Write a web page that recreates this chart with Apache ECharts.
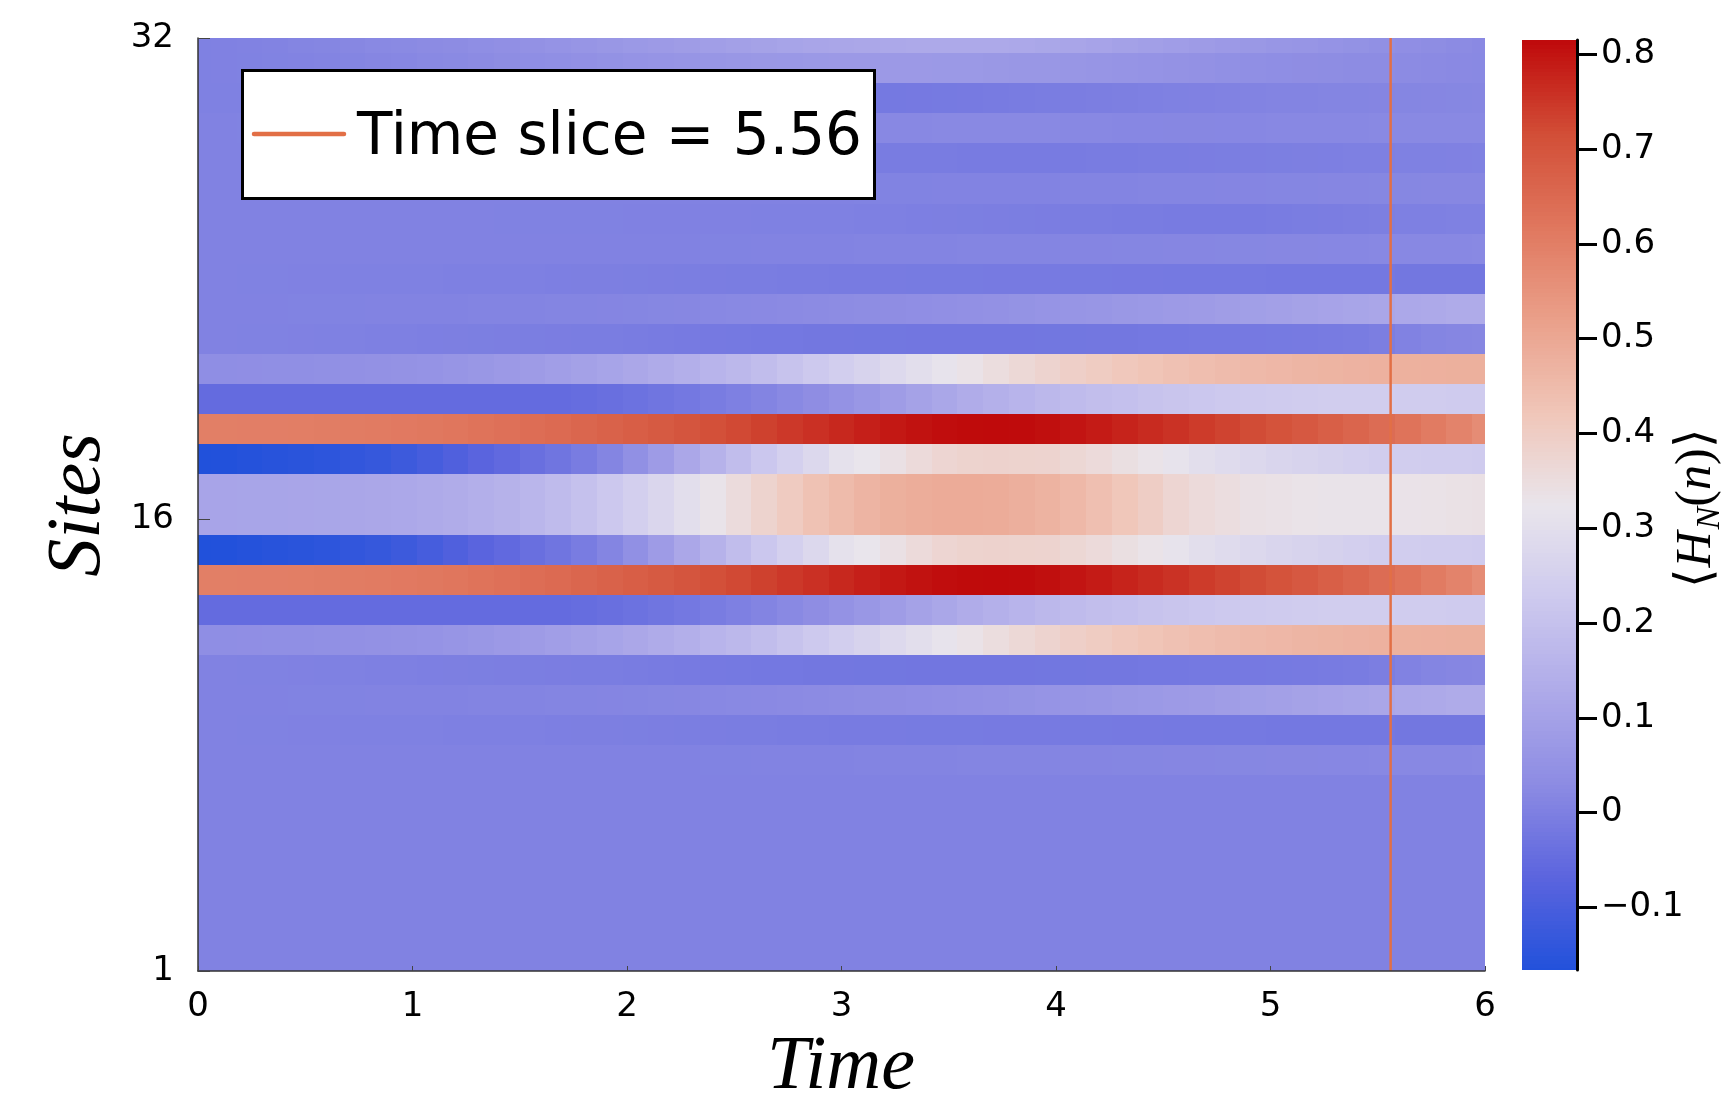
<!DOCTYPE html>
<html><head><meta charset="utf-8">
<script src="https://cdn.jsdelivr.net/npm/echarts@6/dist/echarts.min.js"></script>
<style>html,body{margin:0;padding:0;background:#fff}#chart{width:1722px;height:1096px}</style>
</head><body><div id="chart"></div>
<script>
// ---------------- data ----------------
const times = [0,0.12,0.24,0.36,0.48,0.6,0.72,0.84,0.96,1.08,1.2,1.32,1.44,1.56,1.68,1.8,1.92,2.04,2.16,2.28,2.4,2.52,2.64,2.76,2.88,3,3.12,3.24,3.36,3.48,3.6,3.72,3.84,3.96,4.08,4.2,4.32,4.44,4.56,4.68,4.8,4.92,5.04,5.16,5.28,5.4,5.52,5.64,5.76,5.88,6];
const sites = [1,2,3,4,5,6,7,8,9,10,11,12,13,14,15,16,17,18,19,20,21,22,23,24,25,26,27,28,29,30,31,32];

const site01 = [0.008,0.008,0.008,0.008,0.008,0.008,0.008,0.008,0.008,0.008,0.008,0.008,0.008,0.008,0.008,0.008,0.008,0.008,0.008,0.008,0.008,0.008,0.008,0.008,0.008,0.008,0.008,0.008,0.008,0.008,0.008,0.008,0.008,0.008,0.008,0.008,0.008,0.008,0.008,0.008,0.008,0.008,0.008,0.008,0.008,0.008,0.008,0.008,0.008,0.008,0.008];
const site02 = [0.008,0.008,0.008,0.008,0.008,0.008,0.008,0.008,0.008,0.008,0.008,0.008,0.008,0.008,0.008,0.008,0.008,0.008,0.008,0.008,0.008,0.008,0.008,0.008,0.008,0.008,0.008,0.008,0.008,0.008,0.008,0.008,0.008,0.008,0.008,0.008,0.008,0.008,0.008,0.008,0.008,0.008,0.008,0.008,0.008,0.008,0.008,0.008,0.008,0.008,0.008];
const site03 = [0.008,0.008,0.008,0.008,0.008,0.008,0.008,0.008,0.008,0.008,0.008,0.008,0.008,0.008,0.008,0.008,0.008,0.008,0.008,0.008,0.008,0.008,0.008,0.008,0.008,0.008,0.008,0.008,0.008,0.008,0.008,0.008,0.008,0.008,0.008,0.008,0.008,0.008,0.008,0.008,0.008,0.008,0.008,0.008,0.008,0.008,0.008,0.008,0.008,0.008,0.008];
const site04 = [0.008,0.008,0.008,0.008,0.008,0.008,0.008,0.008,0.008,0.008,0.008,0.008,0.008,0.008,0.008,0.008,0.008,0.008,0.008,0.008,0.008,0.008,0.008,0.008,0.008,0.008,0.008,0.008,0.008,0.008,0.008,0.008,0.008,0.008,0.008,0.008,0.008,0.008,0.008,0.008,0.008,0.008,0.008,0.008,0.008,0.008,0.008,0.008,0.008,0.008,0.008];
const site05 = [0.008,0.008,0.008,0.008,0.008,0.008,0.008,0.008,0.008,0.008,0.008,0.008,0.008,0.008,0.008,0.008,0.008,0.008,0.008,0.008,0.008,0.008,0.008,0.008,0.008,0.008,0.008,0.008,0.008,0.008,0.008,0.008,0.008,0.008,0.008,0.008,0.008,0.008,0.008,0.008,0.008,0.008,0.008,0.008,0.008,0.008,0.008,0.008,0.008,0.008,0.008];
const site06 = [0.008,0.008,0.008,0.008,0.008,0.008,0.008,0.008,0.008,0.008,0.008,0.008,0.008,0.008,0.008,0.008,0.008,0.008,0.008,0.008,0.008,0.008,0.008,0.008,0.008,0.008,0.008,0.008,0.008,0.008,0.008,0.008,0.008,0.008,0.008,0.008,0.008,0.008,0.008,0.008,0.008,0.008,0.008,0.008,0.008,0.008,0.008,0.008,0.008,0.008,0.008];
const site07 = [0.008,0.008,0.008,0.008,0.008,0.008,0.008,0.008,0.008,0.008,0.008,0.008,0.008,0.008,0.008,0.008,0.008,0.008,0.008,0.008,0.008,0.008,0.008,0.008,0.008,0.008,0.008,0.008,0.008,0.008,0.008,0.008,0.008,0.008,0.008,0.008,0.008,0.008,0.008,0.008,0.008,0.008,0.008,0.008,0.008,0.008,0.008,0.008,0.008,0.008,0.008];
const site08 = [0.008,0.008,0.008,0.008,0.008,0.008,0.008,0.008,0.008,0.008,0.008,0.008,0.008,0.008,0.008,0.008,0.008,0.008,0.008,0.008,0.009,0.009,0.010,0.010,0.011,0.011,0.012,0.012,0.013,0.013,0.014,0.014,0.015,0.015,0.016,0.016,0.017,0.017,0.018,0.018,0.019,0.019,0.020,0.020,0.021,0.021,0.022,0.022,0.023,0.023,0.024];
const site09 = [0.008,0.008,0.007,0.007,0.006,0.006,0.005,0.005,0.004,0.004,0.003,0.003,0.002,0.002,0.001,0.000,0.000,-0.001,-0.002,-0.003,-0.004,-0.005,-0.006,-0.007,-0.008,-0.009,-0.010,-0.010,-0.011,-0.011,-0.011,-0.012,-0.012,-0.012,-0.013,-0.013,-0.014,-0.014,-0.015,-0.015,-0.016,-0.016,-0.017,-0.017,-0.018,-0.018,-0.018,-0.019,-0.019,-0.020,-0.020];
const site10 = [0.008,0.008,0.008,0.008,0.009,0.009,0.009,0.010,0.010,0.011,0.011,0.012,0.013,0.013,0.014,0.015,0.016,0.017,0.019,0.020,0.022,0.024,0.026,0.028,0.030,0.032,0.035,0.038,0.041,0.044,0.047,0.050,0.054,0.058,0.062,0.066,0.070,0.074,0.078,0.082,0.087,0.092,0.097,0.102,0.107,0.112,0.117,0.122,0.126,0.130,0.133];
const site11 = [0.008,0.008,0.007,0.007,0.006,0.005,0.004,0.003,0.002,0.001,0.000,-0.001,-0.002,-0.003,-0.004,-0.005,-0.006,-0.008,-0.010,-0.012,-0.014,-0.016,-0.017,-0.018,-0.019,-0.020,-0.021,-0.021,-0.022,-0.022,-0.022,-0.022,-0.022,-0.021,-0.021,-0.020,-0.019,-0.018,-0.017,-0.016,-0.015,-0.014,-0.013,-0.012,-0.010,-0.007,-0.002,0.008,0.014,0.018,0.020];
const site12 = [0.040,0.040,0.041,0.042,0.043,0.045,0.047,0.050,0.053,0.057,0.062,0.068,0.075,0.082,0.090,0.099,0.109,0.120,0.132,0.145,0.159,0.174,0.190,0.207,0.225,0.244,0.263,0.282,0.300,0.318,0.335,0.351,0.366,0.380,0.393,0.405,0.416,0.426,0.435,0.443,0.450,0.456,0.461,0.466,0.470,0.473,0.476,0.478,0.479,0.480,0.480];
const site13 = [-0.050,-0.050,-0.050,-0.050,-0.050,-0.050,-0.050,-0.050,-0.050,-0.050,-0.050,-0.050,-0.050,-0.050,-0.050,-0.045,-0.040,-0.033,-0.025,-0.017,-0.008,0.002,0.013,0.025,0.038,0.052,0.068,0.085,0.102,0.118,0.134,0.148,0.161,0.172,0.182,0.191,0.199,0.206,0.213,0.219,0.225,0.230,0.234,0.237,0.239,0.240,0.240,0.238,0.236,0.234,0.232];
const site14 = [0.600,0.600,0.601,0.602,0.603,0.605,0.607,0.610,0.613,0.617,0.622,0.628,0.635,0.642,0.650,0.659,0.668,0.678,0.689,0.700,0.712,0.724,0.736,0.748,0.760,0.772,0.784,0.795,0.804,0.810,0.814,0.815,0.813,0.808,0.800,0.790,0.779,0.768,0.757,0.745,0.733,0.720,0.706,0.692,0.677,0.661,0.645,0.628,0.609,0.589,0.568];
const site15 = [-0.166,-0.164,-0.160,-0.155,-0.150,-0.145,-0.138,-0.130,-0.118,-0.103,-0.087,-0.070,-0.055,-0.040,-0.025,-0.008,0.015,0.045,0.082,0.120,0.155,0.190,0.220,0.250,0.280,0.310,0.325,0.340,0.360,0.375,0.383,0.385,0.383,0.380,0.370,0.360,0.345,0.332,0.318,0.300,0.290,0.280,0.270,0.260,0.253,0.247,0.242,0.239,0.237,0.236,0.235];
const site16 = [0.110,0.110,0.111,0.112,0.113,0.115,0.117,0.120,0.123,0.128,0.135,0.143,0.153,0.166,0.182,0.200,0.222,0.246,0.272,0.300,0.330,0.355,0.382,0.408,0.432,0.452,0.468,0.480,0.488,0.492,0.492,0.489,0.482,0.472,0.458,0.440,0.420,0.400,0.375,0.360,0.350,0.340,0.336,0.332,0.330,0.330,0.331,0.333,0.335,0.338,0.340];
const site17 = [0.110,0.110,0.111,0.112,0.113,0.115,0.117,0.120,0.123,0.128,0.135,0.143,0.153,0.166,0.182,0.200,0.222,0.246,0.272,0.300,0.330,0.355,0.382,0.408,0.432,0.452,0.468,0.480,0.488,0.492,0.492,0.489,0.482,0.472,0.458,0.440,0.420,0.400,0.375,0.360,0.350,0.340,0.336,0.332,0.330,0.330,0.331,0.333,0.335,0.338,0.340];
const site18 = [-0.166,-0.164,-0.160,-0.155,-0.150,-0.145,-0.138,-0.130,-0.118,-0.103,-0.087,-0.070,-0.055,-0.040,-0.025,-0.008,0.015,0.045,0.082,0.120,0.155,0.190,0.220,0.250,0.280,0.310,0.325,0.340,0.360,0.375,0.383,0.385,0.383,0.380,0.370,0.360,0.345,0.332,0.318,0.300,0.290,0.280,0.270,0.260,0.253,0.247,0.242,0.239,0.237,0.236,0.235];
const site19 = [0.600,0.600,0.601,0.602,0.603,0.605,0.607,0.610,0.613,0.617,0.622,0.628,0.635,0.642,0.650,0.659,0.668,0.678,0.689,0.700,0.712,0.724,0.736,0.748,0.760,0.772,0.784,0.795,0.804,0.810,0.814,0.815,0.813,0.808,0.800,0.790,0.779,0.768,0.757,0.745,0.733,0.720,0.706,0.692,0.677,0.661,0.645,0.628,0.609,0.589,0.568];
const site20 = [-0.050,-0.050,-0.050,-0.050,-0.050,-0.050,-0.050,-0.050,-0.050,-0.050,-0.050,-0.050,-0.050,-0.050,-0.050,-0.045,-0.040,-0.033,-0.025,-0.017,-0.008,0.002,0.013,0.025,0.038,0.052,0.068,0.085,0.102,0.118,0.134,0.148,0.161,0.172,0.182,0.191,0.199,0.206,0.213,0.219,0.225,0.230,0.234,0.237,0.239,0.240,0.240,0.238,0.236,0.234,0.232];
const site21 = [0.040,0.040,0.041,0.042,0.043,0.045,0.047,0.050,0.053,0.057,0.062,0.068,0.075,0.082,0.090,0.099,0.109,0.120,0.132,0.145,0.159,0.174,0.190,0.207,0.225,0.244,0.263,0.282,0.300,0.318,0.335,0.351,0.366,0.380,0.393,0.405,0.416,0.426,0.435,0.443,0.450,0.456,0.461,0.466,0.470,0.473,0.476,0.478,0.479,0.480,0.480];
const site22 = [0.008,0.008,0.007,0.007,0.006,0.005,0.004,0.003,0.002,0.001,0.000,-0.001,-0.002,-0.003,-0.004,-0.005,-0.006,-0.008,-0.010,-0.012,-0.014,-0.016,-0.017,-0.018,-0.019,-0.020,-0.021,-0.021,-0.022,-0.022,-0.022,-0.022,-0.022,-0.021,-0.021,-0.020,-0.019,-0.018,-0.017,-0.016,-0.015,-0.014,-0.013,-0.012,-0.010,-0.007,-0.002,0.008,0.014,0.018,0.020];
const site23 = [0.008,0.008,0.008,0.008,0.009,0.009,0.009,0.010,0.010,0.011,0.011,0.012,0.013,0.013,0.014,0.015,0.016,0.017,0.019,0.020,0.022,0.024,0.026,0.028,0.030,0.032,0.035,0.038,0.041,0.044,0.047,0.050,0.054,0.058,0.062,0.066,0.070,0.074,0.078,0.082,0.087,0.092,0.097,0.102,0.107,0.112,0.117,0.122,0.126,0.130,0.133];
const site24 = [0.008,0.008,0.007,0.007,0.006,0.006,0.005,0.005,0.004,0.004,0.003,0.003,0.002,0.002,0.001,0.000,0.000,-0.001,-0.002,-0.003,-0.004,-0.005,-0.006,-0.007,-0.008,-0.009,-0.010,-0.010,-0.011,-0.011,-0.011,-0.012,-0.012,-0.012,-0.013,-0.013,-0.014,-0.014,-0.015,-0.015,-0.016,-0.016,-0.017,-0.017,-0.018,-0.018,-0.018,-0.019,-0.019,-0.020,-0.020];
const site25 = [0.008,0.008,0.008,0.008,0.008,0.008,0.008,0.008,0.008,0.008,0.008,0.008,0.008,0.008,0.008,0.008,0.008,0.008,0.008,0.008,0.009,0.009,0.010,0.010,0.011,0.011,0.012,0.012,0.013,0.013,0.014,0.014,0.015,0.015,0.016,0.016,0.017,0.017,0.018,0.018,0.019,0.019,0.020,0.020,0.021,0.021,0.022,0.022,0.023,0.023,0.024];
const site26 = [0.008,0.008,0.008,0.008,0.008,0.008,0.008,0.008,0.008,0.008,0.008,0.008,0.007,0.007,0.007,0.007,0.007,0.006,0.006,0.006,0.006,0.006,0.005,0.005,0.005,0.004,0.003,0.002,0.001,0.000,-0.001,-0.002,-0.003,-0.004,-0.005,-0.006,-0.007,-0.008,-0.009,-0.010,-0.010,-0.009,-0.008,-0.006,-0.004,-0.002,0.000,0.002,0.003,0.004,0.005];
const site27 = [0.008,0.008,0.008,0.008,0.008,0.008,0.008,0.008,0.008,0.008,0.008,0.008,0.008,0.008,0.008,0.008,0.008,0.008,0.008,0.008,0.008,0.008,0.008,0.008,0.008,0.008,0.009,0.009,0.009,0.010,0.010,0.010,0.011,0.011,0.012,0.012,0.013,0.014,0.015,0.015,0.016,0.016,0.017,0.017,0.018,0.018,0.019,0.019,0.020,0.020,0.020];
const site28 = [0.008,0.008,0.008,0.008,0.008,0.007,0.007,0.006,0.006,0.005,0.005,0.004,0.004,0.003,0.002,0.002,0.001,0.000,-0.001,-0.001,-0.002,-0.003,-0.003,-0.004,-0.005,-0.005,-0.006,-0.007,-0.008,-0.008,-0.009,-0.009,-0.010,-0.010,-0.009,-0.008,-0.007,-0.006,-0.005,-0.004,-0.003,-0.002,-0.001,0.000,0.001,0.002,0.003,0.004,0.005,0.006,0.007];
const site29 = [0.008,0.008,0.009,0.009,0.010,0.010,0.011,0.011,0.012,0.012,0.013,0.013,0.014,0.014,0.015,0.015,0.016,0.016,0.017,0.017,0.018,0.018,0.019,0.019,0.020,0.020,0.021,0.022,0.023,0.024,0.024,0.025,0.025,0.024,0.023,0.022,0.021,0.021,0.020,0.020,0.021,0.021,0.022,0.022,0.023,0.023,0.024,0.024,0.025,0.025,0.025];
const site30 = [0.005,0.005,0.005,0.005,0.004,0.004,0.003,0.003,0.002,0.001,0.000,-0.001,-0.002,-0.003,-0.004,-0.005,-0.006,-0.007,-0.008,-0.009,-0.010,-0.011,-0.012,-0.013,-0.014,-0.015,-0.015,-0.015,-0.014,-0.013,-0.012,-0.010,-0.008,-0.006,-0.004,-0.002,0.000,0.002,0.004,0.006,0.008,0.010,0.012,0.013,0.014,0.015,0.016,0.017,0.018,0.019,0.020];
const site31 = [0.005,0.006,0.007,0.009,0.011,0.013,0.015,0.018,0.021,0.024,0.027,0.031,0.035,0.039,0.043,0.047,0.051,0.055,0.059,0.062,0.065,0.068,0.070,0.072,0.074,0.075,0.076,0.076,0.075,0.074,0.073,0.071,0.069,0.067,0.064,0.061,0.058,0.055,0.052,0.049,0.046,0.043,0.040,0.038,0.036,0.034,0.032,0.030,0.028,0.026,0.025];
const site32 = [0.005,0.006,0.008,0.011,0.014,0.017,0.020,0.024,0.027,0.030,0.034,0.039,0.044,0.049,0.055,0.061,0.067,0.073,0.079,0.085,0.091,0.097,0.103,0.108,0.113,0.117,0.120,0.123,0.125,0.126,0.126,0.125,0.122,0.118,0.113,0.107,0.100,0.094,0.088,0.082,0.076,0.071,0.066,0.061,0.056,0.051,0.046,0.041,0.036,0.031,0.026];

const timeSlice = 5.56;
const xTicks = [0,1,2,3,4,5,6];
const siteTicks = [1,16,32];
const cbarTicks = [-0.1,0,0.1,0.2,0.3,0.4,0.5,0.6,0.7,0.8];
const cMin = -0.166, cMax = 0.815;
const cmap = ['#2151db','#5b64de','#8c8be3','#aeaae9','#cdc9ee','#e9e5ec','#f0c6b9','#eaa08a','#e0775e','#d24e37','#bf0a0b'];

// ---------------- build ----------------
const rows = [site01,site02,site03,site04,site05,site06,site07,site08,site09,site10,site11,site12,site13,site14,site15,site16,
              site17,site18,site19,site20,site21,site22,site23,site24,site25,site26,site27,site28,site29,site30,site31,site32];
const cells = [];
rows.forEach((row, si) => row.forEach((v, k) => cells.push([times[k], sites[si], v, k])));

const nBar = 240;
const barData = [];
for (let i = 0; i < nBar; i++) {
  const lo = cMin + (cMax - cMin) * i / nBar, hi = cMin + (cMax - cMin) * (i + 1) / nBar;
  barData.push([lo, hi, (lo + hi) / 2]);
}

function clip(rect, cs) {
  return echarts.graphic.clipRectByRect(rect, {x: cs.x, y: cs.y, width: cs.width, height: cs.height});
}
function renderCell(params, api) {
  const k = api.value(3), t = api.value(0), s = api.value(1);
  const n = times.length;
  const tl = k > 0 ? (times[k - 1] + t) / 2 : t - (times[1] - times[0]) / 2;
  const tr = k < n - 1 ? (t + times[k + 1]) / 2 : t + (times[n - 1] - times[n - 2]) / 2;
  const p0 = api.coord([tl, s + 0.5]), p1 = api.coord([tr, s - 0.5]);
  const x0 = Math.round(p0[0]), x1 = Math.round(p1[0]), y0 = Math.round(p0[1]), y1 = Math.round(p1[1]);
  const r = clip({x: x0, y: y0, width: x1 - x0, height: y1 - y0}, params.coordSys);
  if (!r) return;
  return {type: 'rect', shape: r, style: {fill: api.visual('color')}};
}
function renderBar(params, api) {
  const p0 = api.coord([0, api.value(1)]), p1 = api.coord([1, api.value(0)]);
  const y0 = Math.floor(p0[1]), y1 = Math.ceil(p1[1]);
  const r = clip({x: p0[0], y: y0, width: p1[0] - p0[0], height: y1 - y0 + 1}, params.coordSys);
  if (!r) return;
  return {type: 'rect', shape: r, style: {fill: api.visual('color')}};
}

const mctx = document.createElement('canvas').getContext('2d');
function tw(font, s) { mctx.font = font; return mctx.measureText(s).width; }

const serifI = 'italic 50px "Liberation Serif"';
const serifU = '50px "Liberation Serif"';
const subF = 'italic 34px "Liberation Serif"';
const parts = [
  {s: '\u27E8', f: serifU, dy: 0},
  {s: 'H', f: serifI, dy: 0},
  {s: 'N', f: subF, dy: 13},
  {s: '(', f: serifU, dy: 0},
  {s: 'n', f: serifI, dy: 0},
  {s: ')\u27E9', f: serifU, dy: 0}
];
let totalW = 0; parts.forEach(p => { p.w = tw(p.f, p.s) + (p.s === 'H' ? 2 : 0); totalW += p.w; });
let cx = -totalW / 2;
const cbLabelChildren = parts.map(p => {
  const el = {type: 'text', x: cx, y: p.dy, style: {text: p.s, font: p.f, fill: '#000', align: 'left', verticalAlign: 'middle'}};
  cx += p.w; return el;
});

const chart = echarts.init(document.getElementById('chart'), null, {renderer: 'canvas'});
const tickFont = {fontFamily: 'DejaVu Sans', fontSize: 34, color: '#000'};
chart.setOption({
  animation: false,
  backgroundColor: '#fff',
  grid: [
    {left: 198, top: 38, width: 1287, height: 933},
    {left: 1522, top: 40, width: 55, height: 930}
  ],
  xAxis: [
    {gridIndex: 0, type: 'value', min: 0, max: 6, interval: 1, z: 10,
     axisLine: {show: true, onZero: false, lineStyle: {color: '#333', width: 1.5}},
     axisTick: {show: true, inside: true, length: 5, lineStyle: {color: '#444'}, customValues: xTicks},
     axisLabel: Object.assign({margin: 19, customValues: xTicks}, tickFont),
     splitLine: {show: false}},
    {gridIndex: 1, type: 'value', min: 0, max: 1, show: false}
  ],
  yAxis: [
    {gridIndex: 0, type: 'value', min: 1, max: 32, z: 10,
     axisLine: {show: true, onZero: false, lineStyle: {color: '#333', width: 1.5}},
     axisTick: {show: true, inside: true, length: 12, lineStyle: {color: '#444'}, customValues: siteTicks},
     axisLabel: Object.assign({margin: 24, customValues: siteTicks}, tickFont),
     splitLine: {show: false}},
    {gridIndex: 1, type: 'value', min: cMin, max: cMax, position: 'right', z: 10,
     axisLine: {show: true, onZero: false, lineStyle: {color: '#000', width: 3}},
     axisTick: {show: true, inside: false, length: 20, lineStyle: {color: '#000', width: 3}, customValues: cbarTicks},
     axisLabel: Object.assign({margin: 24, customValues: cbarTicks,
       formatter: v => (v < 0 ? '\u2212' : '') + String(Math.round(Math.abs(v) * 10) / 10)}, tickFont),
     splitLine: {show: false}}
  ],
  visualMap: {
    type: 'continuous', show: false, min: cMin, max: cMax, dimension: 2, seriesIndex: [0, 2],
    inRange: {color: cmap}
  },
  series: [
    {type: 'custom', name: 'heat', xAxisIndex: 0, yAxisIndex: 0, data: cells, renderItem: renderCell,
     encode: {x: 0, y: 1}, z: 2, silent: true},
    {type: 'line', name: 'Time slice = ' + timeSlice.toFixed(2), xAxisIndex: 0, yAxisIndex: 0,
     data: [[timeSlice, siteTicks[0]], [timeSlice, siteTicks[siteTicks.length - 1]]],
     symbol: 'none', lineStyle: {color: '#e26f46', width: 2.5}, z: 5, silent: true},
    {type: 'custom', name: 'colorbar', xAxisIndex: 1, yAxisIndex: 1, data: barData, renderItem: renderBar,
     encode: {y: [0, 1]}, z: 2, silent: true}
  ],
  graphic: [
    {type: 'rect', left: 241, top: 69, z: 20, shape: {width: 632, height: 128},
     style: {fill: '#fff', stroke: '#000', lineWidth: 3}},
    {type: 'line', z: 21, shape: {x1: 254, y1: 134, x2: 344, y2: 134},
     style: {stroke: '#e26f46', lineWidth: 4.5, lineCap: 'round'}},
    {type: 'text', z: 21, x: 357, y: 139,
     style: {text: 'Time slice = ' + timeSlice.toFixed(2), font: '58px "DejaVu Sans"', fill: '#000', align: 'left', verticalAlign: 'middle'}},
    {type: 'text', z: 21, x: 841, y: 1068,
     style: {text: 'Time', font: 'italic 76px "Liberation Serif"', fill: '#000', align: 'center', verticalAlign: 'middle'}},
    {type: 'text', z: 21, x: 79, y: 505, rotation: Math.PI / 2,
     style: {text: 'Sites', font: 'italic 76px "Liberation Serif"', fill: '#000', align: 'center', verticalAlign: 'middle'}},
    {type: 'group', z: 21, x: 1697, y: 508, rotation: Math.PI / 2, children: cbLabelChildren}
  ]
});
</script></body></html>
